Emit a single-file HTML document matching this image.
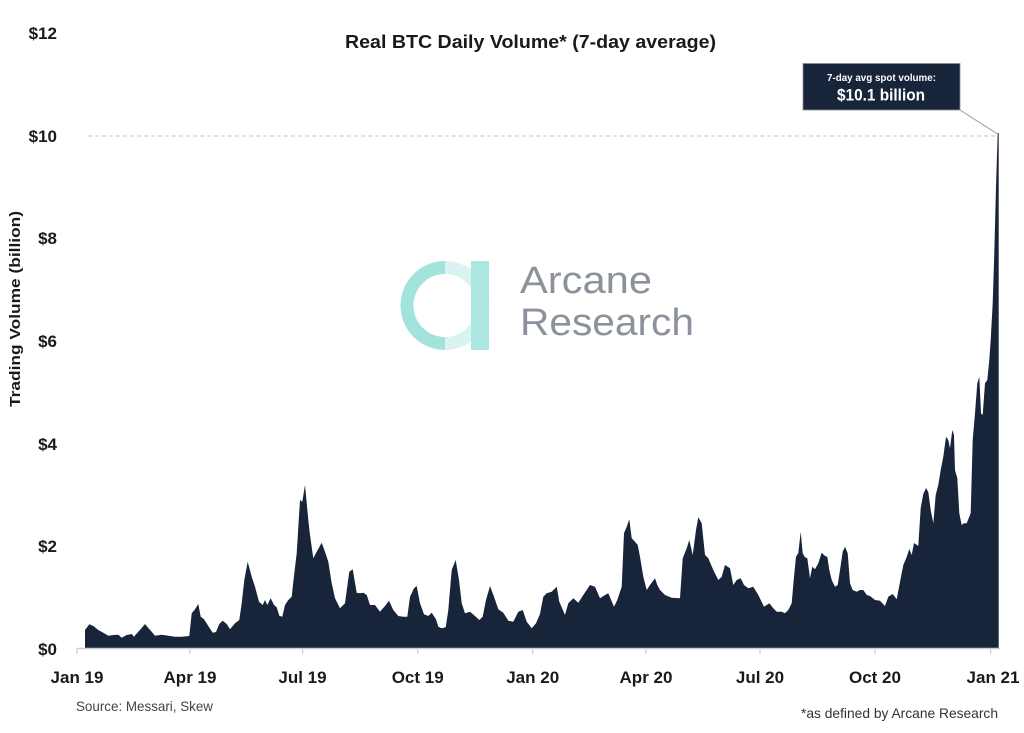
<!DOCTYPE html>
<html>
<head>
<meta charset="utf-8">
<style>
  html,body{margin:0;padding:0;background:#fff;}
  svg{display:block;}
  text{font-family:"Liberation Sans", Arial, sans-serif;}
</style>
</head>
<body>
<svg width="1024" height="733" viewBox="0 0 1024 733" xmlns="http://www.w3.org/2000/svg">
  <rect x="0" y="0" width="1024" height="733" fill="#ffffff"/>

  <!-- Title -->
  <text x="345" y="48" font-size="18" font-weight="bold" fill="#1a1a1a" textLength="371" lengthAdjust="spacingAndGlyphs">Real BTC Daily Volume* (7-day average)</text>

  <!-- Y axis labels -->
  <g font-size="17" font-weight="bold" fill="#1a1a1a" text-anchor="end">
    <text x="57" y="39">$12</text>
    <text x="57" y="142">$10</text>
    <text x="57" y="244">$8</text>
    <text x="57" y="347">$6</text>
    <text x="57" y="450">$4</text>
    <text x="57" y="552">$2</text>
    <text x="57" y="655">$0</text>
  </g>

  <!-- Y axis title -->
  <text transform="translate(20,309) rotate(-90)" font-size="14.5" font-weight="bold" fill="#1a1a1a" text-anchor="middle" textLength="196" lengthAdjust="spacingAndGlyphs">Trading Volume (billion)</text>

  <!-- Watermark logo -->
  <path d="M445,267.5 A38,38 0 0 0 445,343.5" fill="none" stroke="#a2e3dc" stroke-width="13"/>
  <path d="M445,267.5 A38,38 0 0 1 445,343.5" fill="none" stroke="#d8f3f0" stroke-width="13"/>
  <rect x="471" y="261" width="18" height="89" fill="#ace6e1"/>
  <text x="520" y="293" font-size="38" fill="#8c929c" textLength="132" lengthAdjust="spacingAndGlyphs">Arcane</text>
  <text x="520" y="335" font-size="38" fill="#8c929c" textLength="174" lengthAdjust="spacingAndGlyphs">Research</text>

  <!-- $10 dashed reference line -->
  <line x1="88" y1="136" x2="997" y2="136" stroke="#9ecfe0" stroke-width="1" stroke-dasharray="4 3"/>

  <!-- Area series -->
  <path fill="#172439" d="M85,648 L85,630 L89.3,624.3 L93.3,626 L98.3,630 L103.3,632.7 L108.3,635.7 L113.3,635 L118.3,634.7 L121.7,637.7 L126.7,635 L131.7,634 L134,636.7 L138.3,631.7 L141.7,628 L145,624 L148.3,628 L151.7,631.7 L155,635.7 L161.7,634.7 L168.3,635.7 L175,636.7 L181.7,636.7 L189.3,636 L191.7,613.3 L195,609.3 L198.3,604 L200.7,616.7 L204,619.3 L208.3,626 L212.7,632.7 L216,632 L219.3,624 L222.7,620.7 L226.7,624 L230,629.3 L235,623.3 L239.3,620 L241.7,603.3 L244.3,580 L247.7,561.7 L251.7,576.7 L255,586.7 L259,601.7 L262.7,605 L265,600 L267.3,605 L270.7,598.3 L274,605 L276.7,607.3 L279.3,615.7 L282.3,616.7 L285,605 L288.3,600 L291.7,596.7 L293.3,581.7 L296.7,553.3 L300,500 L302.3,501.7 L305,485 L308.3,520 L310,535 L313.3,558.3 L316.7,551.7 L321.7,542.7 L325,551.7 L328.3,561.7 L331.7,583.3 L335,598.3 L340,608.3 L345,603.3 L349.3,571.7 L352.7,569.3 L356.7,592.7 L360,593.3 L363.3,592.7 L366.7,595 L370,605 L375,605 L380,611.7 L385,606 L389,600.7 L393.3,610 L398.3,616 L403.3,616.7 L407.3,616.7 L410,596.7 L414,588.3 L416.7,586 L420,603.3 L424,614.3 L428.3,616 L431.7,612.7 L436,619.3 L438.3,626.7 L441.7,628.3 L445.7,627.3 L448.3,610 L451.7,570 L455.7,560 L459,580 L461.7,603.3 L465,613.3 L470,611.7 L475,616 L479.3,620 L482.7,616.7 L486,600 L490,586 L494,596.7 L498.3,609.3 L503.3,612.7 L508.3,620.7 L513.3,621.7 L518.3,611.7 L522.7,610 L526.7,621.7 L531.7,628.3 L536,623.3 L540,614 L543.3,596.7 L546.7,593.3 L551.7,591.7 L556.7,586.7 L559.3,601.7 L565,615 L568.3,603.3 L573.3,598.3 L578.3,602.7 L583.3,595 L590,585 L595,586.7 L600,598.3 L605,595 L608.3,593.3 L614,606.7 L617.3,600 L621.7,586.7 L624,533.3 L626.7,526.7 L629.3,519.3 L631.7,538.3 L635,541.7 L637.7,545 L640,556.7 L643.3,576.7 L646.7,590 L650,585 L655,578.3 L657.3,585 L660,590 L665,595 L671.7,597.7 L680,598.3 L682.7,558.3 L686.7,548.3 L689.3,540 L692.7,555 L696,530 L698.3,517.3 L701.7,523.3 L705,555 L708.3,558.3 L713.3,570 L718.3,580 L721.7,576.7 L725,565 L730,568.3 L733.3,585 L736.7,580 L740.7,578.3 L744,585 L748.3,588.3 L753.3,586.7 L758.3,595 L764,606.7 L769.3,603.3 L773.3,608.3 L776.7,611.7 L781.7,611.7 L785,613.3 L788.3,610 L791.7,603.3 L794,576.7 L796,556.7 L798.3,553.3 L800.7,531.7 L802.7,553.3 L805,557.3 L807.3,558.3 L810,578.3 L812.3,566.7 L815,569.3 L818.3,563.3 L821.7,552.7 L825,556 L827.3,556.7 L829.3,570 L831.7,580 L835,586.7 L837.7,585 L840,570 L842.7,551.7 L845,546.7 L847.7,553.3 L850,583.3 L852.7,590 L856.7,591.7 L860,590 L863.3,590 L866.7,595 L870,596 L875,600 L880,600.7 L885,606 L888.3,596.7 L892.7,594 L896.7,599.3 L900,582 L903.3,565 L906.7,557 L909.3,549 L911.7,555 L914,543 L918.3,546 L920.7,508 L923.3,494 L926,488 L928.3,492 L930.7,510 L933.3,523.3 L935.7,495 L938.3,485 L940.7,470 L943.3,456.7 L946,436.7 L948.3,440 L950,448.3 L952.3,430 L954,435 L955,470 L957.3,478.3 L959.3,513.3 L961.7,525 L964,523.3 L966.7,523.3 L969.3,516.7 L970.7,513.3 L972.7,440 L975,413.3 L977.3,383.3 L979.3,376.7 L981,413.3 L982.7,415 L985,383.3 L987.3,380 L989.3,360 L990.7,340 L992.7,303.3 L994.3,253.3 L996,186.7 L997.7,133.3 L998.7,133 L998.7,648 Z"/>

  <!-- X axis -->
  <line x1="77" y1="648.5" x2="1000" y2="648.5" stroke="#d0d0d0" stroke-width="1.5"/>
  <g stroke="#d0d0d0" stroke-width="1.2">
    <line x1="77" y1="648" x2="77" y2="654"/>
    <line x1="190" y1="648" x2="190" y2="654"/>
    <line x1="302.5" y1="648" x2="302.5" y2="654"/>
    <line x1="417.7" y1="648" x2="417.7" y2="654"/>
    <line x1="532.7" y1="648" x2="532.7" y2="654"/>
    <line x1="646" y1="648" x2="646" y2="654"/>
    <line x1="760" y1="648" x2="760" y2="654"/>
    <line x1="875" y1="648" x2="875" y2="654"/>
    <line x1="990.7" y1="648" x2="990.7" y2="654"/>
  </g>
  <g font-size="17" font-weight="bold" fill="#1a1a1a" text-anchor="middle">
    <text x="77" y="683">Jan 19</text>
    <text x="190" y="683">Apr 19</text>
    <text x="302.5" y="683">Jul 19</text>
    <text x="417.7" y="683">Oct 19</text>
    <text x="532.7" y="683">Jan 20</text>
    <text x="646" y="683">Apr 20</text>
    <text x="760" y="683">Jul 20</text>
    <text x="875" y="683">Oct 20</text>
    <text x="993" y="683">Jan 21</text>
  </g>

  <!-- Footnotes -->
  <text x="76" y="711" font-size="14" fill="#444" textLength="137" lengthAdjust="spacingAndGlyphs">Source: Messari, Skew</text>
  <text x="801" y="718" font-size="14" fill="#333" textLength="197" lengthAdjust="spacingAndGlyphs">*as defined by Arcane Research</text>

  <!-- Annotation box -->
  <line x1="960" y1="110" x2="997.5" y2="134" stroke="#9a9a9a" stroke-width="1"/>
  <rect x="803" y="63.5" width="157" height="46.5" fill="#172439" stroke="#8a8f98" stroke-width="0.8"/>
  <text x="881.5" y="81" font-size="10.5" font-weight="bold" fill="#ffffff" text-anchor="middle" textLength="109" lengthAdjust="spacingAndGlyphs">7-day avg spot volume:</text>
  <text x="881" y="100.5" font-size="17" font-weight="bold" fill="#ffffff" text-anchor="middle" textLength="88" lengthAdjust="spacingAndGlyphs">$10.1 billion</text>
</svg>
</body>
</html>
